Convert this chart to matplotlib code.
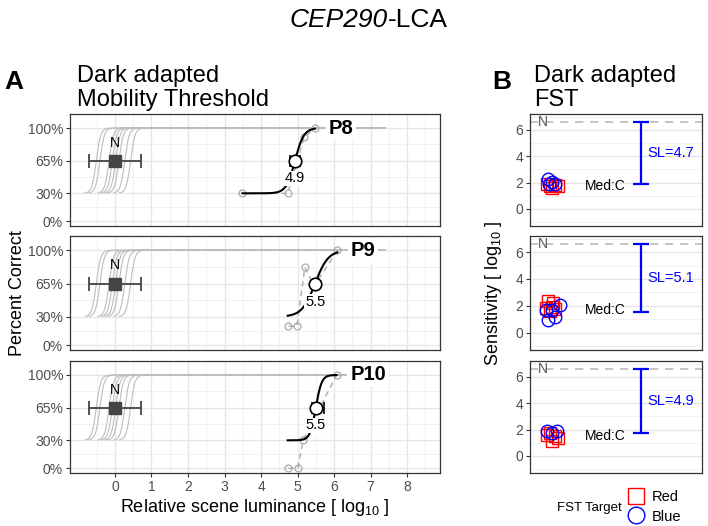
import numpy as np
import matplotlib.pyplot as plt
from matplotlib.lines import Line2D

plt.rcParams['font.family'] = ['Liberation Sans', 'DejaVu Sans']
plt.rcParams['mathtext.fontset'] = 'custom'
plt.rcParams['mathtext.rm'] = 'Liberation Sans'
plt.rcParams['mathtext.it'] = 'Liberation Sans:italic'
plt.rcParams['mathtext.bf'] = 'Liberation Sans:bold'

# ---- A: mobility threshold (percent correct vs luminance)
patients = ["P8", "P9", "P10"]
thr = [4.93, 5.48, 5.50]
thr_text = ["4.9", "5.5", "5.5"]
thr_lo = [4.78, 5.42, 5.39]
thr_hi = [5.07, 5.55, 5.73]
fit_start = [3.49, 4.73, 4.73]
fit_end = [5.48, 6.09, 6.07]
fit_scale = [0.12, 0.18, 0.08]
raw_x = [[3.49, 4.73, 5.18, 5.48],
         [4.75, 4.98, 5.20, 5.45, 6.09],
         [4.75, 5.01, 5.15, 6.07]]
raw_y = [[30, 30, 90, 100],
         [20, 20, 82, 62, 100],
         [0, 0, 30, 100]]

# normal subjects
norm_thr = [-0.51, -0.41, -0.16, -0.07, 0.02, 0.11, 0.27, 0.43]
norm_mean = 0.0
norm_err = 0.71
norm_end = 7.4

# ---- B: FST sensitivity
sl = [4.7, 5.1, 4.9]
sl_text = ["SL=4.7", "SL=5.1", "SL=4.9"]
n_sens = 6.6
med_y = [1.74, 1.70, 1.52]
red_x = [[0.10, 0.116, 0.145, 0.165, 0.126],
         [0.107, 0.136, 0.093, 0.126, 0.145, 0.116],
         [0.116, 0.145, 0.165, 0.126, 0.097]]
red_y = [[1.90, 1.74, 1.82, 1.74, 1.57],
         [2.33, 2.20, 1.85, 1.92, 1.77, 1.60],
         [1.72, 1.52, 1.39, 1.14, 1.57]]
blue_x = [[0.107, 0.126, 0.145, 0.112],
          [0.145, 0.107, 0.174, 0.093, 0.126],
          [0.10, 0.155, 0.126]]
blue_y = [[2.25, 2.07, 1.90, 1.90],
          [1.19, 0.94, 2.08, 1.70, 1.70],
          [1.90, 1.90, 1.77]]

W, H = 708, 526
fig = plt.figure(figsize=(W / 100, H / 100), dpi=100)

def box(x0, y0, x1, y1):
    return [x0 / W, 1 - y1 / H, (x1 - x0) / W, (y1 - y0) / H]

rows = [(114, 226), (236, 350), (361, 473)]
grey_txt = '#4d4d4d'

def style(ax):
    for s in ax.spines.values():
        s.set_color('#333333')
        s.set_linewidth(0.9)
    ax.tick_params(which='major', length=3, color='#333333', width=0.8,
                   labelsize=10, labelcolor=grey_txt, pad=2)
    ax.tick_params(which='minor', length=0)
    ax.grid(which='major', color='#e6e6e6', lw=1.0)
    ax.grid(which='minor', color='#efefef', lw=0.6)
    ax.set_axisbelow(True)

def sig(x, c, s):
    return 30 + 70 / (1 + np.exp(-(x - c) / s))

for i, (top, bot) in enumerate(rows):
    ax = fig.add_axes(box(70, top, 440, bot))
    style(ax)
    ax.set_xlim(-1.23, 8.9)
    ax.set_ylim(-5, 115)
    ax.set_yticks([0, 30, 65, 100])
    ax.set_yticklabels(["0%", "30%", "65%", "100%"])
    ax.set_yticks([15, 47.5, 82.5], minor=True)
    ax.set_xticks(range(9))
    ax.set_xticks(np.arange(-1, 9, 1) + 0.5, minor=True)
    if i < 2:
        ax.tick_params(axis='x', which='both', length=0, labelbottom=False)

    # normal curves
    for c in norm_thr:
        xx = np.linspace(c - 0.3, norm_end, 400)
        ax.plot(xx, sig(xx, c, 0.06), color='#bdbdbd', lw=0.8, zorder=2)
    ax.errorbar([norm_mean], [65], xerr=[norm_err], fmt='s', color='#444444',
                ms=9, capsize=5, elinewidth=1.3, capthick=1.3, zorder=4)
    ax.text(norm_mean, 84, "N", ha='center', va='center', fontsize=10, zorder=5)

    # raw data
    ax.plot(raw_x[i], raw_y[i], color='#aaaaaa', ls=(0, (4, 3)), lw=1.0, zorder=3)
    ax.plot(raw_x[i], raw_y[i], 'o', ms=5, mfc='none', mec='#aaaaaa', mew=0.9, zorder=3)

    # fitted curve + threshold
    xx = np.linspace(fit_start[i], fit_end[i], 300)
    ax.plot(xx, sig(xx, thr[i], fit_scale[i]), color='black', lw=1.5, zorder=5)
    ax.errorbar([thr[i]], [65], xerr=[[thr[i] - thr_lo[i]], [thr_hi[i] - thr[i]]],
                fmt='none', ecolor='black', capsize=4, elinewidth=1.2, capthick=1.2, zorder=6)
    ax.plot([thr[i]], [65], 'o', ms=9, mfc='white', mec='black', mew=1.2, zorder=7)
    ax.text(thr[i], 46, thr_text[i], ha='center', va='center', fontsize=10.5, zorder=8,
            bbox=dict(facecolor='white', edgecolor='none', pad=0.5))

    ax.text(max(raw_x[i]) + 0.37, 100, patients[i], ha='left', va='center',
            fontsize=14.5, fontweight='bold', zorder=8,
            bbox=dict(facecolor='white', edgecolor='none', pad=2))

    if i == 2:
        ax.set_xlabel("Relative scene luminance [ log$_{10}$ ]", fontsize=13, labelpad=2)

    # right panel
    bx = fig.add_axes(box(530, top, 702, bot))
    style(bx)
    bx.grid(False, axis='x', which='both')
    bx.set_xlim(0, 1)
    bx.set_ylim(-1.3, 7.2)
    bx.set_yticks([0, 2, 4, 6])
    bx.set_yticks([-1, 1, 3, 5, 7], minor=True)
    bx.set_xticks([])
    bx.axhline(n_sens, color='#bbbbbb', ls=(0, (5, 4)), lw=1.2, zorder=2)
    bx.text(0.075, n_sens, "N", ha='center', va='center', fontsize=10, color='#555555',
            zorder=3)
    bx.plot(red_x[i], red_y[i], 's', ms=8, mfc='none', mec='red', mew=1.0, zorder=4)
    bx.plot(blue_x[i], blue_y[i], 'o', ms=9, mfc='none', mec='blue', mew=1.0, zorder=4)
    bx.text(0.44, med_y[i], "Med:C", ha='center', va='center', fontsize=10)
    bx.errorbar([0.645], [(2 * n_sens - sl[i]) / 2], yerr=[sl[i] / 2], fmt='none',
                ecolor='blue', capsize=6, elinewidth=1.6, capthick=1.6)
    bx.text(0.685, n_sens - sl[i] / 2, sl_text[i], ha='left', va='center',
            fontsize=10.5, color='blue')

fig.text(18 / W, 1 - 293 / H, "Percent Correct", rotation=90, ha='center',
         va='center', fontsize=13)
fig.text(493 / W, 1 - 293 / H, "Sensitivity [ log$_{10}$ ]", rotation=90,
         ha='center', va='center', fontsize=13)

# titles
fig.text(388 / W, 1 - 20 / H, "CEP290", ha='right', va='center', fontsize=19,
         fontstyle='italic')
fig.text(388 / W, 1 - 20 / H, "-LCA", ha='left', va='center', fontsize=19)
fig.text(14 / W, 1 - 82 / H, "A", ha='center', va='center', fontsize=19, fontweight='bold')
fig.text(77 / W, 1 - 88 / H, "Dark adapted\nMobility Threshold", ha='left',
         va='center', fontsize=17, linespacing=1.1)
fig.text(502 / W, 1 - 82 / H, "B", ha='center', va='center', fontsize=19, fontweight='bold')
fig.text(534 / W, 1 - 88 / H, "Dark adapted\nFST", ha='left', va='center',
         fontsize=17, linespacing=1.1)

# legend
handles = [Line2D([], [], marker='s', ls='', mfc='none', mec='red', ms=11, mew=1.0),
           Line2D([], [], marker='o', ls='', mfc='none', mec='blue', ms=12, mew=1.0)]
fig.legend(handles, ["Red", "Blue"], loc='center left',
           bbox_to_anchor=(614 / W, 1 - 507 / H), frameon=False, fontsize=10.5,
           labelspacing=0.35, handletextpad=0.5, handlelength=1.2)
fig.text(557 / W, 1 - 508 / H, "FST Target", ha='left', va='center', fontsize=9.5)

fig.savefig("out.png", dpi=100)
